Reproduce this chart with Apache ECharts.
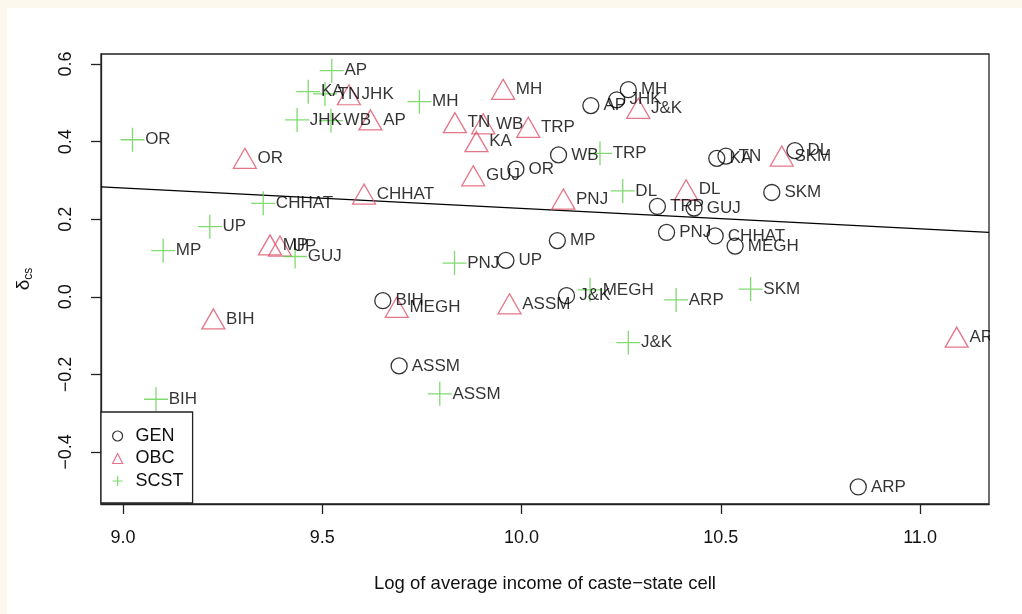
<!DOCTYPE html>
<html>
<head>
<meta charset="utf-8">
<title>Caste-state income and δcs</title>
<script src="https://cdn.jsdelivr.net/npm/echarts@6/dist/echarts.min.js"></script>
<style>
  html, body { margin: 0; padding: 0; background: #fcf8ed; }
  #panel { position: absolute; left: 7px; top: 8px; right: 0; bottom: 0; background: #ffffff; }
  #chart { position: absolute; left: 0; top: 0; width: 1022px; height: 614px; }
</style>
</head>
<body>
<div id="panel"></div>
<div id="chart"></div>
<script>
// GEN caste-state cells: state code, log average income, delta_cs
const genStates = ['AP', 'JHK', 'MH', 'WB', 'OR', 'UP', 'MP', 'BIH', 'J&K', 'ASSM',
                   'TRP', 'GUJ', 'PNJ', 'CHHAT', 'MEGH', 'KA', 'TN', 'DL', 'SKM', 'ARP'];
const genIncome = [10.174, 10.239, 10.268, 10.093, 9.986, 9.961, 10.090, 9.652, 10.113, 9.693,
                   10.341, 10.433, 10.364, 10.486, 10.536, 10.490, 10.513, 10.686, 10.628, 10.845];
const genDelta  = [0.493, 0.508, 0.534, 0.366, 0.329, 0.094, 0.145, -0.010, 0.003, -0.178,
                   0.233, 0.229, 0.166, 0.157, 0.131, 0.357, 0.363, 0.377, 0.269, -0.490];

// OBC caste-state cells
const obcStates = ['OR', 'JHK', 'AP', 'CHHAT', 'MP', 'UP', 'BIH', 'MH', 'TN', 'WB',
                   'KA', 'TRP', 'GUJ', 'PNJ', 'J&K', 'ASSM', 'MEGH', 'DL', 'SKM', 'ARP'];
const obcIncome = [9.306, 9.567, 9.621, 9.605, 9.369, 9.394, 9.227, 9.954, 9.833, 9.904,
                   9.887, 10.017, 9.879, 10.105, 10.293, 9.970, 9.687, 10.413, 10.653, 11.092];
const obcDelta  = [0.357, 0.521, 0.456, 0.265, 0.134, 0.131, -0.057, 0.535, 0.449, 0.446,
                   0.400, 0.437, 0.312, 0.252, 0.486, -0.018, -0.027, 0.276, 0.363, -0.104];

// SC/ST caste-state cells
const scstStates = ['OR', 'AP', 'KA', 'TN', 'JHK', 'WB', 'MH', 'CHHAT', 'UP', 'MP',
                    'GUJ', 'BIH', 'PNJ', 'ASSM', 'J&K', 'MEGH', 'ARP', 'SKM', 'TRP', 'DL'];
const scstIncome = [9.024, 9.524, 9.465, 9.507, 9.437, 9.522, 9.744, 9.352, 9.218, 9.101,
                    9.432, 9.083, 9.832, 9.795, 10.268, 10.172, 10.388, 10.575, 10.197, 10.254];
const scstDelta  = [0.405, 0.583, 0.529, 0.523, 0.456, 0.454, 0.503, 0.241, 0.181, 0.119,
                    0.104, -0.264, 0.087, -0.250, -0.118, 0.018, -0.008, 0.020, 0.370, 0.273];

// Fitted line, evaluated at the two ends of the x range
const fitIncome = [8.945, 11.173];
const fitDelta  = [0.2835, 0.166];

// Axis ticks
const xTicks = [9.0, 9.5, 10.0, 10.5, 11.0];
const yTicks = [-0.4, -0.2, 0.0, 0.2, 0.4, 0.6];

const X_MIN = 8.945, X_MAX = 11.173;
const Y_MIN = -0.534, Y_MAX = 0.626;

const FONT = "'Liberation Sans', Arial, Helvetica, sans-serif";
const RED = '#DF536B';
const GREEN = '#61D04F';
const CROSS = 'path://M12,0V24M0,12H24';
const TICK_LEN = 10;

function points(states, xs, ys) {
  return states.map((s, i) => ({ name: s, value: [xs[i], ys[i]] }));
}

function fmtNum(v) {
  return Number(v).toFixed(1).replace('-', '\u2212');
}

const labelStyle = {
  show: true,
  position: 'right',
  formatter: '{b}',
  color: '#000',
  fontFamily: FONT,
  fontSize: 17
};

const chart = echarts.init(document.getElementById('chart'), null, { renderer: 'canvas' });

chart.setOption({
  animation: false,
  backgroundColor: 'transparent',
  textStyle: { fontFamily: FONT },
  grid: {
    left: 101, top: 54, right: 33, bottom: 110,
    show: true, borderColor: '#222', borderWidth: 1.3, backgroundColor: '#fff'
  },
  xAxis: {
    type: 'value',
    position: 'bottom',
    min: X_MIN, max: X_MAX,
    name: 'Log of average income of caste\u2212state cell',
    nameLocation: 'middle',
    nameGap: 70,
    nameTextStyle: { color: '#111', fontSize: 18.5, fontFamily: FONT },
    axisLine: { show: true, onZero: false, lineStyle: { color: '#222', width: 1.3 } },
    axisTick: { show: true, inside: false, length: TICK_LEN, customValues: xTicks, lineStyle: { color: '#222', width: 1.3 } },
    axisLabel: { show: true, customValues: xTicks, formatter: fmtNum, margin: 25, color: '#111', fontSize: 18, fontFamily: FONT },
    splitLine: { show: false }
  },
  yAxis: {
    type: 'value',
    position: 'left',
    min: Y_MIN, max: Y_MAX,
    name: '{d|\u03b4}{s|cs}',
    nameLocation: 'middle',
    nameRotate: 90,
    nameGap: 66,
    nameTextStyle: {
      color: '#111', fontFamily: FONT,
      rich: {
        d: { fontSize: 19, lineHeight: 22, fontFamily: FONT, color: '#111' },
        s: { fontSize: 12, lineHeight: 13, padding: [9, 0, 0, 0], fontFamily: FONT, color: '#111' }
      }
    },
    axisLine: { show: true, onZero: false, lineStyle: { color: '#222', width: 1.3 } },
    axisTick: { show: true, inside: false, length: TICK_LEN, customValues: yTicks, lineStyle: { color: '#222', width: 1.3 } },
    axisLabel: { customValues: yTicks, formatter: fmtNum, rotate: 90, margin: 26, color: '#111', fontSize: 18, fontFamily: FONT },
    splitLine: { show: false }
  },
  legend: {
    left: 101, top: 412,
    orient: 'vertical',
    padding: [14, 9, 12, 11],
    itemGap: 2.5,
    itemWidth: 10, itemHeight: 10,
    borderColor: '#222', borderWidth: 1.3,
    backgroundColor: '#fff',
    textStyle: { fontSize: 18, lineHeight: 20, color: '#111', fontFamily: FONT, padding: [0, 0, 0, 8] },
    data: [
      { name: 'GEN', icon: 'circle', itemStyle: { color: 'rgba(0,0,0,0)', borderColor: '#000', borderWidth: 1.2 } },
      { name: 'OBC', icon: 'triangle', itemStyle: { color: 'rgba(0,0,0,0)', borderColor: RED, borderWidth: 1.2 } },
      { name: 'SCST', icon: CROSS, itemStyle: { color: 'rgba(0,0,0,0)', borderColor: GREEN, borderWidth: 1.2 } }
    ],
    z: 20
  },
  series: [
    {
      name: 'fit',
      type: 'line',
      data: fitIncome.map((x, i) => [x, fitDelta[i]]),
      symbol: 'none',
      silent: true,
      lineStyle: { color: '#000', width: 1.3 },
      z: 1
    },
    {
      name: 'GEN',
      type: 'scatter',
      data: points(genStates, genIncome, genDelta),
      symbol: 'circle',
      symbolSize: 16,
      itemStyle: { color: 'rgba(0,0,0,0)', borderColor: '#000', borderWidth: 1.3 },
      label: Object.assign({}, labelStyle, { distance: 4 }),
      z: 3
    },
    {
      name: 'OBC',
      type: 'scatter',
      data: points(obcStates, obcIncome, obcDelta),
      symbol: 'triangle',
      symbolSize: [23, 20],
      itemStyle: { color: 'rgba(0,0,0,0)', borderColor: RED, borderWidth: 1.3 },
      label: Object.assign({}, labelStyle, { distance: 0.5 }),
      z: 3
    },
    {
      name: 'SCST',
      type: 'scatter',
      data: points(scstStates, scstIncome, scstDelta),
      symbol: CROSS,
      symbolSize: 24,
      itemStyle: { color: 'rgba(0,0,0,0)', borderColor: GREEN, borderWidth: 1.3 },
      label: Object.assign({}, labelStyle, { distance: 0 }),
      z: 3
    }
  ],
  graphic: [
    {
      // text is clipped to the plotting region on the right-hand side
      type: 'rect',
      shape: { x: 990, y: 40, width: 40, height: 470 },
      style: { fill: '#fff' },
      silent: true,
      z: 100
    }
  ]
});
</script>
</body>
</html>
